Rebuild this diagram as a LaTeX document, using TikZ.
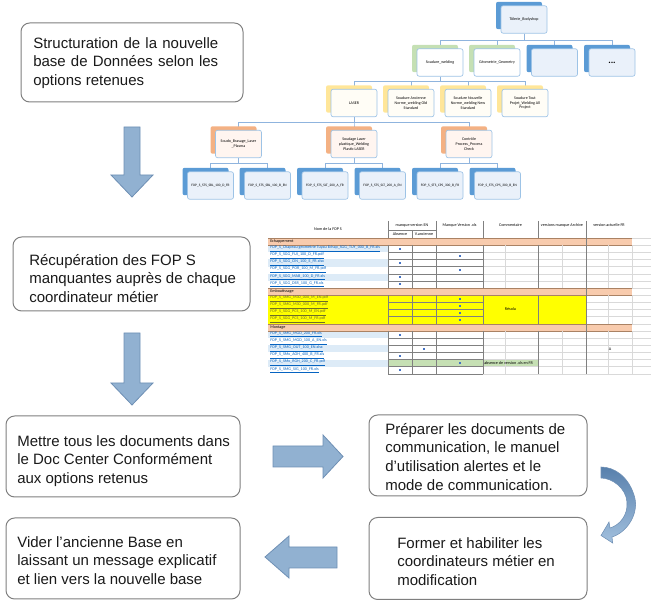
\documentclass[tikz,border=0pt]{standalone}
\usepackage{fontspec}
\setmainfont{Liberation Sans}
\newfontfamily\calib{Carlito}
\usetikzlibrary{backgrounds}
\hyphenpenalty=10000
\exhyphenpenalty=10000
\definecolor{boxline}{RGB}{127,127,127}
\definecolor{txt}{RGB}{26,26,26}
\definecolor{arrfill}{RGB}{145,177,209}
\definecolor{arrline}{RGB}{110,143,180}
\definecolor{obblue}{RGB}{91,155,213}
\definecolor{obgreen}{RGB}{197,224,180}
\definecolor{obyellow}{RGB}{255,230,153}
\definecolor{oborange}{RGB}{244,177,131}
\definecolor{ofline}{RGB}{157,195,230}
\definecolor{offblue}{RGB}{234,241,250}
\definecolor{offyellow}{RGB}{255,253,246}
\definecolor{offorange}{RGB}{255,245,240}
\definecolor{conn}{RGB}{143,180,222}
\definecolor{torange}{RGB}{248,203,173}
\definecolor{toline}{RGB}{170,130,100}
\definecolor{tblue}{RGB}{221,235,247}
\definecolor{tgreen}{RGB}{198,224,180}
\definecolor{tyellow}{RGB}{255,255,0}
\definecolor{tgrid}{RGB}{217,217,217}
\definecolor{tdark}{RGB}{128,128,128}
\definecolor{tlink}{RGB}{5,99,193}
\definecolor{tolive}{RGB}{110,110,40}
\definecolor{tdot}{RGB}{68,114,196}
\definecolor{cvtop}{RGB}{88,128,172}
\definecolor{cvbot}{RGB}{162,192,222}
\tikzset{
  stepbox/.style={draw=boxline, line width=0.75pt, rounded corners=6.5pt, fill=white, inner sep=0pt},
  steptext/.style={anchor=north west, inner sep=0pt, text=txt, align=left,
    font=\fontsize{11.25}{14}\selectfont},
  bigarrow/.style={fill=arrfill, draw=arrline, line width=0.6pt, line join=miter},
  orgback/.style={rounded corners=1.6pt, minimum width=34.5pt, minimum height=20.6pt, inner sep=0pt},
  orgfront/.style={draw=ofline, line width=0.5pt, rounded corners=1.6pt, minimum width=34.5pt,
    minimum height=20.6pt, inner sep=0.5pt, align=center, text=black,
    font=\calib\fontsize{3}{3.5}\selectfont},
  conn/.style={draw=conn, line width=0.5pt},
  tdarkl/.style={draw=tdark, line width=0.35pt},
  tgridl/.style={draw=tgrid, line width=0.3pt},
  toli/.style={draw=toline, line width=0.4pt},
  tfont/.style={font=\calib\fontsize{3.1}{3.5}\selectfont, inner sep=0pt},
}
\newcommand\orgnode[6]{%
  \node[orgback, fill=#4] (#1b) at ({#2-5},{#3-4}) {};
  \node[orgfront, fill=#5] (#1) at (#2,#3) {#6};
}
\begin{document}
\begin{tikzpicture}[x=0.75pt,y=-0.75pt]
\useasboundingbox (0,0) rectangle (651,605);

% ---------------- step boxes ----------------
\node[stepbox, minimum width=166.5pt, minimum height=59.25pt] (b1) at (132,62.5) {};
\node[steptext, text width=138.75pt, align=justify] (t1) at (33,37)
  {Structuration de la nouvelle base de Données selon les options retenues};
\node[stepbox, minimum width=177.75pt, minimum height=55.5pt] (b2) at (131.5,274) {};
\node[steptext] (t2) at (29,254) {Récupération des FOP S\\manquantes auprès de chaque\\coordinateur métier};
\node[stepbox, minimum width=175.5pt, minimum height=60.75pt] (b3) at (123,456.5) {};
\node[steptext] (t3) at (17,435) {Mettre tous les documents dans\\le Doc Center Conformément\\aux options retenus};
\node[stepbox, minimum width=163.5pt, minimum height=60.75pt] (b4) at (478,455.5) {};
\node[steptext] (t4) at (385,423) {Préparer les documents de\\communication, le manuel\\d’utilisation alertes et le\\mode de communication.};
\node[stepbox, minimum width=163.5pt, minimum height=61.5pt] (b5) at (478,558.5) {};
\node[steptext] (t5) at (397,537) {Former et habiliter les\\coordinateurs métier en\\modification};
\node[stepbox, minimum width=175.5pt, minimum height=60.75pt] (b6) at (123,558.5) {};
\node[steptext] (t6) at (17,536) {Vider l’ancienne Base en\\laissant un message explicatif\\et lien vers la nouvelle base};

% ---------------- block arrows ----------------
\filldraw[bigarrow] (124,127) -- (140,127) -- (140,175) -- (153,175) -- (132,197) -- (111,175) -- (124,175) -- cycle;
\filldraw[bigarrow] (124,333) -- (140,333) -- (140,383) -- (153,383) -- (132,405) -- (111,383) -- (124,383) -- cycle;
\filldraw[bigarrow] (273,446) -- (323,446) -- (323,435) -- (343,456.5) -- (323,478) -- (323,467) -- (273,467) -- cycle;
\filldraw[bigarrow] (337,547) -- (289,547) -- (289,536) -- (265,557) -- (289,578) -- (289,568) -- (337,568) -- cycle;
\shade[top color=cvtop, bottom color=cvbot, draw=arrline, line width=0.4pt, line join=miter]
  (601,478) -- (601,467) .. controls (614,467) and (628,476) .. (634,495)
  .. controls (640,512) and (628,532) .. (612,537)
  -- (612.7,543) -- (601,535.5) -- (609,522) -- (610,528)
  .. controls (620,525) and (628,515) .. (627,502)
  .. controls (626,488) and (612,478) .. (601,478) -- cycle;

% ---------------- org chart ----------------
\orgnode{top}{524}{19.5}{obblue}{offblue}{Tôlerie\_Bodyshop}
\orgnode{sw}{440}{62.5}{obgreen}{white}{Soudure\_welding}
\orgnode{geo}{497}{62.5}{obgreen}{white}{Géometrie\_Geometry}
\orgnode{blk}{554.5}{62.5}{obblue}{offblue}{}
\orgnode{dots}{612}{62.5}{obblue}{offblue}{\fontsize{7}{8}\selectfont\bfseries ...}
\orgnode{laser}{354}{103}{obyellow}{offyellow}{LASER}
\orgnode{old}{411}{103}{obyellow}{offyellow}{Soudure Ancienne\\Norme\_welding Old\\Standard}
\orgnode{new}{468}{103}{obyellow}{offyellow}{Soudure Nouvelle\\Norme\_welding New\\Standard}
\orgnode{all}{525}{103}{obyellow}{offyellow}{Soudure Tout\\Projet\_Welding All\\Project}
\orgnode{sbl}{238.5}{144}{oborange}{offorange}{Soudo\_Brasage\_Laser\\\_Plasma}
\orgnode{slt}{354}{144}{oborange}{offorange}{Soudage Laser\\plastique\_Welding\\Plastic LASER}
\orgnode{cps}{469}{144}{oborange}{offorange}{Contrôle\\Process\_Process\\Check}
\orgnode{f1}{210.5}{185.5}{obblue}{offblue}{\fontsize{2.6}{3}\selectfont FOP\_S\_STS\_SBL\_100\_D\_FR}
\orgnode{f2}{267.5}{185.5}{obblue}{offblue}{\fontsize{2.6}{3}\selectfont FOP\_S\_STS\_SBL\_100\_B\_EN}
\orgnode{f3}{325}{185.5}{obblue}{offblue}{\fontsize{2.6}{3}\selectfont FOP\_S\_STS\_SLT\_200\_A\_FR}
\orgnode{f4}{382.5}{185.5}{obblue}{offblue}{\fontsize{2.6}{3}\selectfont FOP\_S\_STS\_SLT\_200\_A\_EN}
\orgnode{f5}{440}{185.5}{obblue}{offblue}{\fontsize{2.6}{3}\selectfont FOP\_S\_STS\_CPS\_300\_B\_FR}
\orgnode{f6}{497.5}{185.5}{obblue}{offblue}{\fontsize{2.6}{3}\selectfont FOP\_S\_STS\_CPS\_300\_B\_EN}

\begin{pgfonlayer}{background}
  \foreach \c in {sw,geo,blk,dots} \draw[conn] (top.south) -- ++(0,7) -| (\c.north);
  \foreach \c in {laser,old,new,all} \draw[conn] (sw.south) -- ++(0,5) -| (\c.north);
  \foreach \c in {sbl,slt,cps} \draw[conn] (laser.south) -- ++(0,5) -| (\c.north);
  \foreach \c in {f1,f2} \draw[conn] (sbl.south) -- ++(0,5) -| (\c.north);
  \foreach \c in {f3,f4} \draw[conn] (slt.south) -- ++(0,5) -| (\c.north);
  \foreach \c in {f5,f6} \draw[conn] (cps.south) -- ++(0,5) -| (\c.north);
\end{pgfonlayer}

% ---------------- table ----------------
\foreach \i in {0,7,12} \fill[torange] (268,{238+7.15*\i}) rectangle (632,{238+7.15*(\i+1)});
\fill[tyellow] (268,{238+7.15*8}) rectangle (586,{238+7.15*12});
\foreach \i in {1,3,5,13,15,17} \fill[tblue] (268,{238+7.15*\i}) rectangle (388,{238+7.15*(\i+1)});
\fill[tgreen] (388,{238+7.15*17}) rectangle (538,{238+7.15*18});
% horizontal lines
\foreach \k in {2,3,4,5,6,9,10,11,14,15,16,17,18,19} \draw[tdarkl] (388,{238+7.15*\k}) -- (483,{238+7.15*\k});
\foreach \k in {2,3,4,5,6,14,15,16,17,18,19} \draw[tgridl] (483,{238+7.15*\k}) -- (651,{238+7.15*\k});
\foreach \k in {9,10,11} \draw[tgridl] (586,{238+7.15*\k}) -- (651,{238+7.15*\k});
\foreach \k in {0,1,7,8,12,13} \draw[toli] (268,{238+7.15*\k}) -- (632,{238+7.15*\k});
\foreach \k in {0,1,7,8,12,13} \draw[tgridl] (632,{238+7.15*\k}) -- (651,{238+7.15*\k});
\draw[tdarkl] (388,230) -- (436,230);
% vertical lines
\foreach \x in {388,436,483,538} {
  \draw[tdarkl] (\x,221) -- (\x,238);
  \draw[tdarkl] (\x,245.15) -- (\x,288.05);
  \draw[tdarkl] (\x,295.2) -- (\x,323.8);
  \draw[tdarkl] (\x,330.95) -- (\x,373.85);
}
\draw[tdarkl] (412,230) -- (412,238);
\draw[tdarkl] (412,245.15) -- (412,288.05);
\draw[tdarkl] (412,295.2) -- (412,323.8);
\draw[tdarkl] (412,330.95) -- (412,373.85);
\draw[tdarkl] (586,221) -- (586,373.85);
\foreach \x in {505,562,608,632} {
  \draw[tgridl] (\x,245.15) -- (\x,288.05);
  \draw[tgridl] (\x,330.95) -- (\x,373.85);
}
\foreach \x in {608,632} \draw[tgridl] (\x,295.2) -- (\x,323.8);
% header texts
\node[tfont] (h1) at (328,229) {Nom de la FOP S};
\node[tfont] (h2) at (412,225.5) {manque version EN};
\node[tfont] (h3) at (400,234.5) {Absence};
\node[tfont] (h4) at (424,234.5) {V.ancienne};
\node[tfont] (h5) at (459.5,225.5) {Manque Version .xls};
\node[tfont] (h6) at (510.5,225.5) {Commentaire};
\node[tfont] (h7) at (562,225.5) {versions manque Archive};
\node[tfont] (h8) at (609,225.5) {version actuelle FR};
% section labels
\node[tfont, anchor=west] (s1) at (270,{238+7.15*0.5}) {Echappement};
\node[tfont, anchor=west] (s2) at (270,{238+7.15*7.5}) {Emboutissage};
\node[tfont, anchor=west] (s3) at (270,{238+7.15*12.5}) {Montage};
% file names
\foreach \i/\n in {1/FOP\_S\_Chapeau geometrie Tuyau Echap\_SGG\_TUY\_000\_B\_FR.xls,
  2/FOP\_S\_SGG\_FUJ\_100\_D\_FR.pdf, 3/FOP\_S\_SGG\_CIN\_100\_E\_FR.xlsx,
  4/FOP\_S\_SGG\_POR\_100\_M\_FR.pdf, 5/FOP\_S\_SGG\_MAB\_100\_D\_FR.xls,
  6/FOP\_S\_SGG\_DSR\_100\_G\_FR.xls,
  13/FOP\_S\_SMG\_MGD\_200\_FR.xls, 14/FOP\_S\_SMG\_MGD\_100\_A\_EN.xls,
  15/FOP\_S\_SMG\_OUT\_100\_EN.xlsx, 16/FOP\_S\_SMx\_AOH\_400\_B\_FR.xls,
  17/FOP\_S\_SMx\_RGH\_200\_C\_FR.pdf, 18/FOP\_S\_SMG\_SIG\_100\_FR.xls}
  \node[tfont, anchor=west, text=tlink] (n\i) at (270,{238+7.15*(\i+0.5)}) {\underline{\n}};
\foreach \i/\n in {8/FOP\_S\_SMG\_M30\_000\_M\_EN.pdf, 9/FOP\_S\_SMG\_M30\_000\_M\_FR.pdf,
  10/FOP\_S\_SGG\_PCS\_100\_M\_EN.pdf, 11/FOP\_S\_SGG\_PCS\_100\_M\_FR.pdf}
  \node[tfont, anchor=west, text=tolive] (n\i) at (270,{238+7.15*(\i+0.5)}) {\underline{\n}};
% marks
\foreach \i/\x in {1/400,2/459.5,3/400,4/459.5,5/400,6/400,8/459.5,9/459.5,10/459.5,11/459.5,
  13/400,15/424,16/400,17/459.5,18/400}
  \fill[tdot] ({\x-1},{238+7.15*(\i+0.5)-1}) rectangle ({\x+1},{238+7.15*(\i+0.5)+1});
\node[tfont] (res) at (510.5,{238+7.15*10}) {Résolu};
\node[tfont, anchor=west] (abs) at (484,{238+7.15*17.5}) {absence de version .xls en FR};
\node[tfont] (aa) at (610,{238+7.15*15.5}) {A};
\end{tikzpicture}
\end{document}
